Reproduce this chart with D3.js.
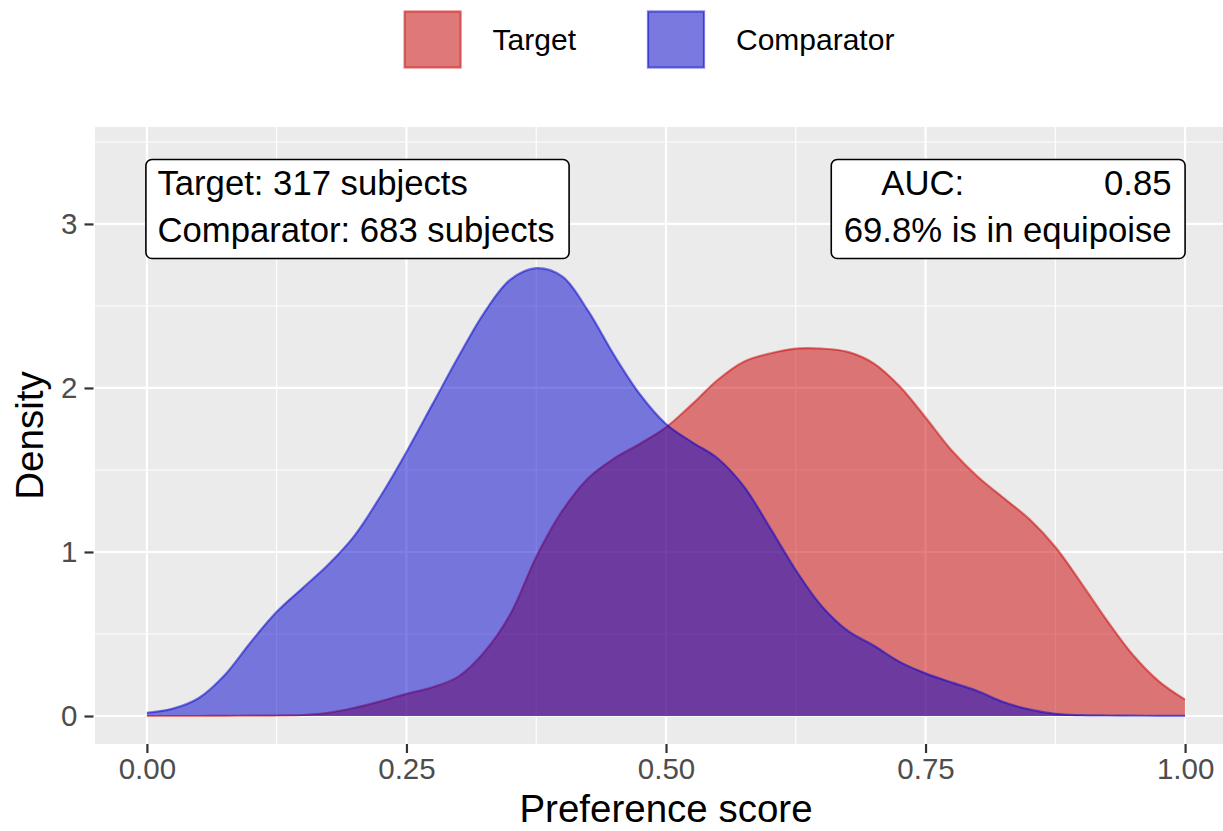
<!DOCTYPE html>
<html>
<head>
<meta charset="utf-8">
<script src="https://cdn.jsdelivr.net/npm/d3@7"></script>
<style>
  html, body { margin: 0; padding: 0; background: #ffffff; }
  svg { display: block; font-family: "Liberation Sans", Arial, sans-serif; }
</style>
</head>
<body>
<svg id="chart" width="1223" height="831"></svg>
<script>
// ---------------- data ----------------
const groups = ["Target", "Comparator"];
const groupColors = ["#CC0000", "#0000CC"];
const scoreGrid = [0, 0.025, 0.05, 0.075, 0.1, 0.125, 0.15, 0.175, 0.2, 0.225, 0.25, 0.275, 0.3, 0.325, 0.35, 0.375, 0.4, 0.425, 0.45, 0.475, 0.5, 0.525, 0.55, 0.575, 0.6, 0.625, 0.65, 0.675, 0.7, 0.725, 0.75, 0.775, 0.8, 0.825, 0.85, 0.875, 0.9, 0.925, 0.95, 0.975, 1];
const targetDensity = [0, 0, 0, 0.001, 0.002, 0.003, 0.006, 0.02, 0.05, 0.09, 0.135, 0.175, 0.24, 0.39, 0.62, 0.97, 1.25, 1.45, 1.57, 1.66, 1.76, 1.90, 2.05, 2.16, 2.21, 2.24, 2.24, 2.22, 2.15, 2.01, 1.82, 1.62, 1.46, 1.33, 1.20, 1.03, 0.81, 0.58, 0.37, 0.21, 0.10];
const comparatorDensity = [0.02, 0.045, 0.11, 0.25, 0.45, 0.635, 0.78, 0.925, 1.10, 1.34, 1.61, 1.90, 2.19, 2.46, 2.66, 2.73, 2.68, 2.47, 2.20, 1.96, 1.78, 1.67, 1.57, 1.40, 1.15, 0.89, 0.67, 0.52, 0.43, 0.33, 0.26, 0.205, 0.153, 0.085, 0.04, 0.013, 0.005, 0.003, 0.002, 0.001, 0.001];
const xTicks = [0, 0.25, 0.5, 0.75, 1];
const xTickLabels = ["0.00", "0.25", "0.50", "0.75", "1.00"];
const xMinor = [0.125, 0.375, 0.625, 0.875];
const yTicks = [0, 1, 2, 3];
const yTickLabels = ["0", "1", "2", "3"];
const yMinor = [0.5, 1.5, 2.5, 3.5];
const xTitle = "Preference score";
const yTitle = "Density";
const leftLabelLines = ["Target: 317 subjects", "Comparator: 683 subjects"];
const aucLabel = "AUC:";
const aucValue = "0.85";
const equipoiseLine = "69.8% is in equipoise";

// ---------------- layout ----------------
const svg = d3.select("#chart");
const panel = { left: 95, right: 1237, top: 127, bottom: 744 };
const x = d3.scaleLinear().domain([-0.05, 1.05]).range([panel.left, panel.right]);
const y = d3.scaleLinear().domain([-0.1707, 3.591]).range([panel.bottom, panel.top]);

// panel background
svg.append("rect")
  .attr("x", panel.left).attr("y", panel.top)
  .attr("width", panel.right - panel.left).attr("height", panel.bottom - panel.top)
  .attr("fill", "#EBEBEB");

const grid = svg.append("g");
grid.selectAll("line.xminor").data(xMinor).join("line")
  .attr("x1", d => x(d)).attr("x2", d => x(d))
  .attr("y1", panel.top).attr("y2", panel.bottom)
  .attr("stroke", "#fff").attr("stroke-width", 1.1);
grid.selectAll("line.yminor").data(yMinor).join("line")
  .attr("y1", d => y(d)).attr("y2", d => y(d))
  .attr("x1", panel.left).attr("x2", panel.right)
  .attr("stroke", "#fff").attr("stroke-width", 1.1);
grid.selectAll("line.xmajor").data(xTicks).join("line")
  .attr("x1", d => x(d)).attr("x2", d => x(d))
  .attr("y1", panel.top).attr("y2", panel.bottom)
  .attr("stroke", "#fff").attr("stroke-width", 2.2);
grid.selectAll("line.ymajor").data(yTicks).join("line")
  .attr("y1", d => y(d)).attr("y2", d => y(d))
  .attr("x1", panel.left).attr("x2", panel.right)
  .attr("stroke", "#fff").attr("stroke-width", 2.2);

// densities
const series = [targetDensity, comparatorDensity].map(vals =>
  scoreGrid.map((s, i) => ({ x: s, y: vals[i] })));

const curve = d3.curveCatmullRom.alpha(0.5);
const area = d3.area()
  .x(d => x(d.x)).y0(y(0)).y1(d => y(d.y))
  .curve(curve);
const line = d3.line()
  .x(d => x(d.x)).y(d => y(d.y))
  .curve(curve);

series.forEach((pts, i) => {
  const g = svg.append("g");
  g.append("path").attr("d", area(pts))
    .attr("fill", groupColors[i]).attr("fill-opacity", 0.5);
  g.append("path").attr("d", line(pts))
    .attr("fill", "none").attr("stroke", groupColors[i])
    .attr("stroke-opacity", 0.5).attr("stroke-width", 2.2);
});

// axes
const xAxis = d3.axisBottom(x).tickValues(xTicks)
  .tickFormat((d, i) => xTickLabels[i]).tickSize(9).tickPadding(5);
const gx = svg.append("g").attr("transform", `translate(0,${panel.bottom})`).call(xAxis);
gx.select(".domain").remove();
gx.selectAll(".tick line").attr("stroke", "#333333").attr("stroke-width", 2.2);
gx.selectAll(".tick text").attr("fill", "#4D4D4D")
  .style("font-size", "29.5px").style("font-family", "'Liberation Sans', Arial, sans-serif");

const yAxis = d3.axisLeft(y).tickValues(yTicks)
  .tickFormat((d, i) => yTickLabels[i]).tickSize(9).tickPadding(7);
const gy = svg.append("g").attr("transform", `translate(${panel.left - 1.5},0)`).call(yAxis);
gy.select(".domain").remove();
gy.selectAll(".tick line").attr("stroke", "#333333").attr("stroke-width", 2.2);
gy.selectAll(".tick text").attr("fill", "#4D4D4D")
  .style("font-size", "29.5px").style("font-family", "'Liberation Sans', Arial, sans-serif");

// axis titles
svg.append("text")
  .attr("x", (panel.left + panel.right) / 2).attr("y", 822)
  .attr("text-anchor", "middle").attr("font-size", 38.5).attr("fill", "#000")
  .text(xTitle);
svg.append("text")
  .attr("transform", `translate(43,${(panel.top + panel.bottom) / 2}) rotate(-90)`)
  .attr("text-anchor", "middle").attr("font-size", 38.5).attr("fill", "#000")
  .text(yTitle);

// annotation labels
const labelFont = 34.7;
const pad = 12.5;
const boxCenterY = y(3.091);
const boxH = 99;
const base1 = boxCenterY - 14.5;
const base2 = boxCenterY + 33;

function measure(str) {
  const t = svg.append("text").attr("font-size", labelFont).text(str);
  const w = t.node().getComputedTextLength();
  t.remove();
  return w;
}

// left box
{
  const w = d3.max(leftLabelLines, measure) + 2 * pad + 1;
  const bx = x(0) - 1;
  svg.append("rect")
    .attr("x", bx).attr("y", boxCenterY - boxH / 2)
    .attr("width", w).attr("height", boxH)
    .attr("rx", 6).attr("ry", 6)
    .attr("fill", "#fff").attr("stroke", "#000").attr("stroke-width", 1.6);
  leftLabelLines.forEach((s, i) => {
    svg.append("text").attr("x", bx + pad - 1).attr("y", i === 0 ? base1 : base2)
      .attr("font-size", labelFont).attr("fill", "#000").text(s);
  });
}
// right box
{
  const w = Math.max(measure(equipoiseLine), measure(aucLabel + "      " + aucValue)) + 2 * pad + 1;
  const bxr = x(1);
  const bx = bxr - w;
  svg.append("rect")
    .attr("x", bx).attr("y", boxCenterY - boxH / 2)
    .attr("width", w).attr("height", boxH)
    .attr("rx", 6).attr("ry", 6)
    .attr("fill", "#fff").attr("stroke", "#000").attr("stroke-width", 1.6);
  svg.append("text").attr("x", bx + 50).attr("y", base1)
    .attr("font-size", labelFont).attr("fill", "#000").text(aucLabel);
  svg.append("text").attr("x", bxr - pad - 1).attr("y", base1).attr("text-anchor", "end")
    .attr("font-size", labelFont).attr("fill", "#000").text(aucValue);
  svg.append("text").attr("x", bxr - pad - 1).attr("y", base2).attr("text-anchor", "end")
    .attr("font-size", labelFont).attr("fill", "#000").text(equipoiseLine);
}

// legend
{
  const keySize = 58;
  const keyTop = 10.5;
  const keyTextGap = 31;
  const itemGap = 71;
  const legendFont = 30;
  const textWidths = groups.map(g => {
    const t = svg.append("text").attr("font-size", legendFont).text(g);
    const w = t.node().getComputedTextLength(); t.remove(); return w;
  });
  const total = groups.length * (keySize + keyTextGap) + d3.sum(textWidths) + itemGap * (groups.length - 1);
  let cx = 649 - total / 2;
  groups.forEach((g, i) => {
    svg.append("rect").attr("x", cx).attr("y", keyTop)
      .attr("width", keySize).attr("height", keySize).attr("fill", "#F2F2F2");
    svg.append("rect").attr("x", cx + 1).attr("y", keyTop + 1)
      .attr("width", keySize - 2).attr("height", keySize - 2)
      .attr("fill", groupColors[i]).attr("fill-opacity", 0.5)
      .attr("stroke", groupColors[i]).attr("stroke-opacity", 0.5).attr("stroke-width", 2.2);
    svg.append("text").attr("x", cx + keySize + keyTextGap).attr("y", keyTop + keySize / 2 + 10.5)
      .attr("font-size", legendFont).attr("fill", "#000").text(g);
    cx += keySize + keyTextGap + textWidths[i] + itemGap;
  });
}
</script>
</body>
</html>
